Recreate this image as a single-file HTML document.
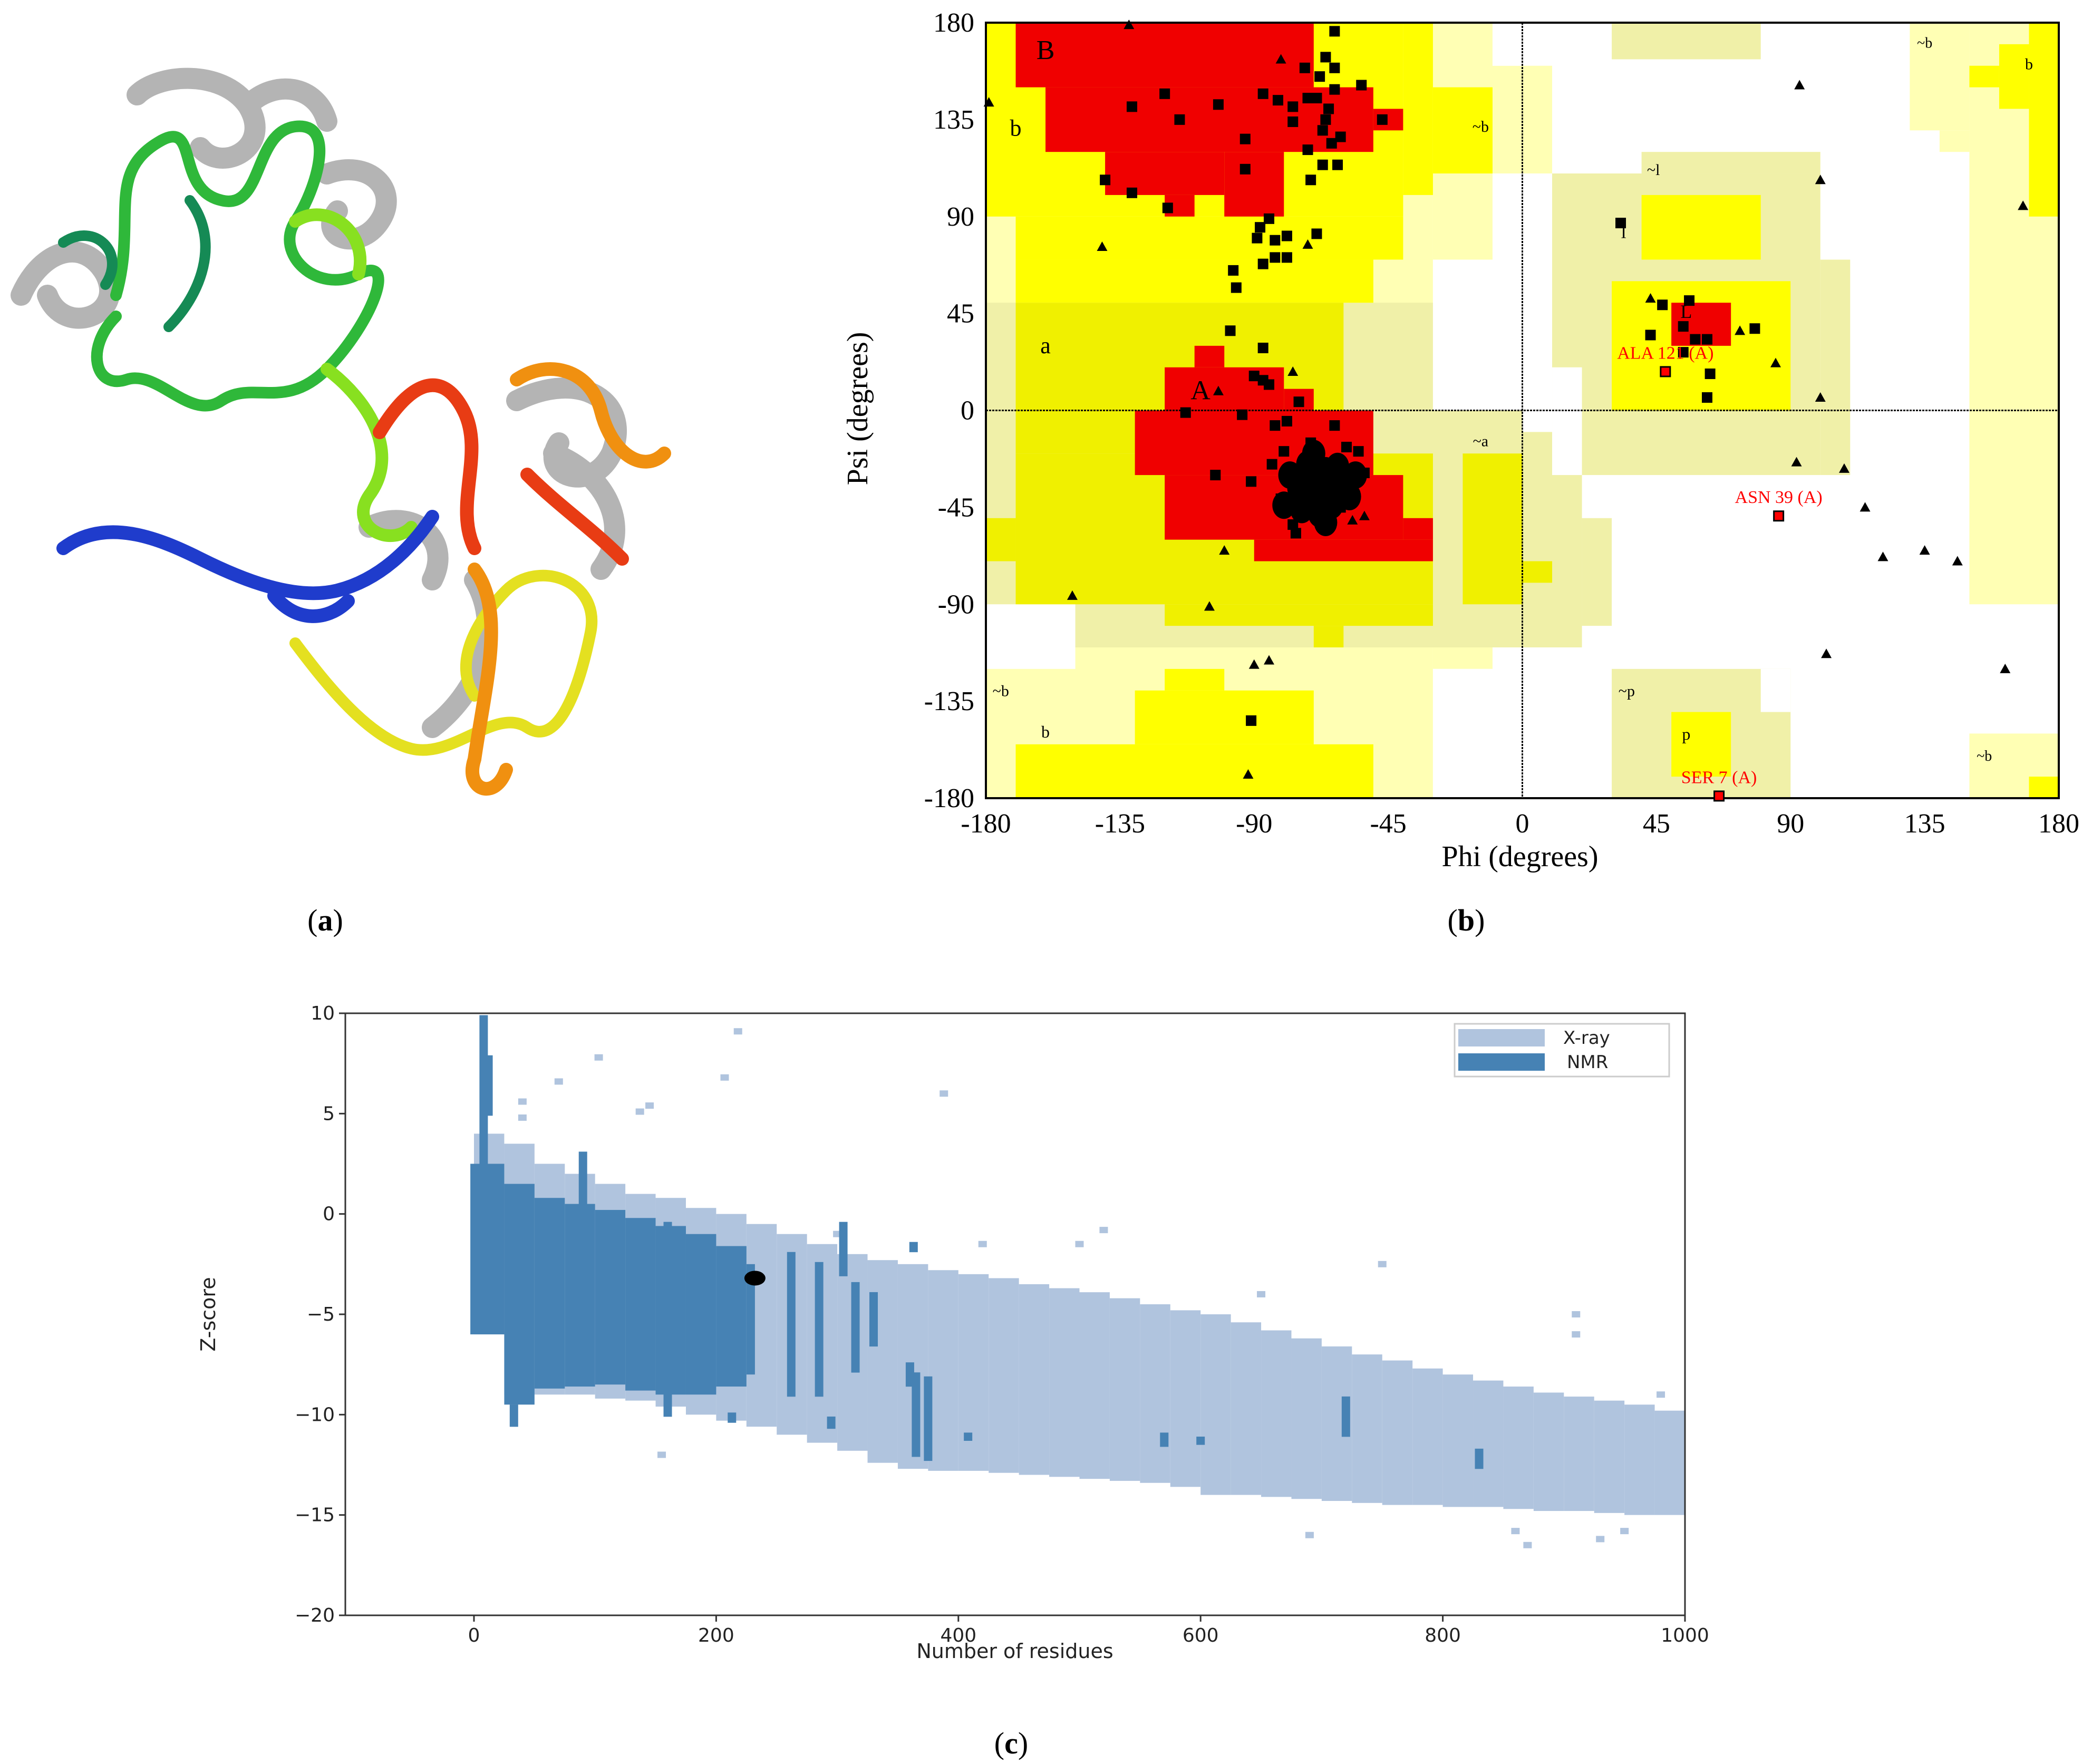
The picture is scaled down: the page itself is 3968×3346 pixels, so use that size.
<!DOCTYPE html>
<html><head><meta charset="utf-8"><style>
html,body{margin:0;padding:0;background:#fff;}
svg{display:block;}
</style></head><body>
<svg id="fig" xmlns="http://www.w3.org/2000/svg" width="3968" height="3346" viewBox="0 0 3968 3346">
<rect width="3968" height="3346" fill="#fff"/>
<g id="panelA" fill="none" stroke-linecap="round" stroke-linejoin="round">
  <path d="M40,560 C80,470 160,450 200,520 C240,600 120,640 90,560 M260,180 C300,140 420,130 470,200 C520,280 420,330 380,280 M470,200 C520,150 600,160 620,230 M620,330 C700,300 760,360 720,420 C680,480 600,450 640,400 M980,760 C1100,700 1200,760 1160,860 C1120,940 1020,900 1060,840 M700,1000 C780,960 860,1020 820,1100 M900,1100 C960,1200 900,1320 820,1380 M1050,860 C1150,900 1200,1000 1140,1080" stroke="#b4b4b4" stroke-width="40"/>
  <path d="M220,560 C260,420 200,330 300,270 C380,220 330,360 420,380 C500,400 480,250 560,240 C640,230 600,360 560,420 C520,480 600,560 680,520 C760,480 700,620 620,700 C540,780 480,720 420,760 C360,800 300,700 240,720 C180,740 160,660 220,600" stroke="#2fb83a" stroke-width="22"/>
  <path d="M560,420 C620,380 700,440 680,520 M620,700 C700,760 760,860 700,940 C660,1000 740,1040 780,1000" stroke="#88e020" stroke-width="24"/>
  <path d="M120,460 C180,420 240,480 200,540 M360,380 C420,460 380,560 320,620" stroke="#158a55" stroke-width="20"/>
  <path d="M120,1040 C200,980 300,1020 380,1060 C460,1100 560,1140 640,1120 C720,1100 780,1040 820,980 M520,1130 C560,1180 620,1180 660,1140" stroke="#1f3ccc" stroke-width="26"/>
  <path d="M560,1220 C620,1300 700,1400 780,1420 C860,1440 940,1340 1000,1380 C1060,1420 1100,1300 1120,1200 C1140,1100 1020,1060 960,1120 C900,1180 860,1260 900,1320" stroke="#e4e020" stroke-width="22"/>
  <path d="M900,1080 C960,1160 920,1300 900,1440 C880,1500 940,1520 960,1460 M980,720 C1040,680 1120,700 1140,780 C1160,860 1220,900 1260,860" stroke="#f09010" stroke-width="26"/>
  <path d="M720,820 C780,720 840,700 880,780 C920,860 860,960 900,1040 M1000,900 C1060,960 1120,1000 1180,1060" stroke="#e83c14" stroke-width="26"/>
</g>
<g id="rama"></g>
<g id="zplot"></g>
<text x="617" y="1765" font-family="Liberation Serif, serif" font-size="58" text-anchor="middle">(<tspan font-weight="bold">a</tspan>)</text>
<text x="2781" y="1765" font-family="Liberation Serif, serif" font-size="58" text-anchor="middle">(<tspan font-weight="bold">b</tspan>)</text>
<text x="1918" y="3326" font-family="Liberation Serif, serif" font-size="58" text-anchor="middle">(<tspan font-weight="bold">c</tspan>)</text>
</svg>
<script>
// ---------- Ramachandran data (degrees) ----------
const ramaTicks = [-180,-135,-90,-45,0,45,90,135,180];
const paleRegions = [[-180,-30,-180,180],[-30,-10,-120,180],[-10,10,110,160],[130,150,130,180],[140,150,120,130],[150,180,-90,180],[150,180,-180,-150]];
const khakiRegions = [[-180,0,-110,50],[0,20,-110,-10],[20,30,-100,-50],[10,100,-30,110],[40,100,110,120],[100,110,-30,70],[30,80,163,180],[30,90,-180,-120]];
const whiteRegions = [[-180,-150,-120,-90],[-30,0,0,70],[-10,0,70,100],[-10,0,160,180],[-30,0,-180,-120],[10,20,-30,20],[80,90,-140,-120]];
const yellowRegions = [[-180,-40,90,180],[-170,-40,70,90],[-40,-30,100,180],[-30,-10,110,150],[-170,-50,50,70],[-170,-50,-180,-155],[-130,-70,-155,-130],[-120,-100,-130,-120],[170,180,90,180],[160,170,140,170],[150,160,150,160],[170,180,-180,-170],[40,80,70,100],[30,90,0,60],[50,70,-170,-140]];
const yellow2Regions = [[-170,-60,-20,50],[-170,-30,-90,-20],[-180,-170,-70,-50],[-20,0,-90,-20],[-120,-30,-100,-90],[-70,-60,-110,-100],[0,10,-80,-70]];
const redRegions = [[-170,-70,150,180],[-160,-50,120,150],[-50,-40,130,140],[-140,-100,100,120],[-120,-110,90,100],[-100,-80,90,120],[-110,-100,20,30],[-120,-80,0,20],[-80,-70,0,10],[-130,-50,-30,0],[-120,-40,-60,-30],[-90,-30,-70,-60],[-40,-30,-60,-50],[50,70,30,50]];
const squarePts = [[-63,176],[-66,164],[-63,159],[-73,159],[-68,155],[-54,151],[-63,149],[-87,147],[-82,144],[-72,145],[-69,145],[-77,141],[-65,140],[-120,147],[-131,141],[-102,142],[-115,135],[-77,134],[-66,135],[-47,135],[-67,130],[-61,127],[-93,126],[-64,124],[-72,121],[-93,112],[-67,114],[-62,114],[-71,107],[-140,107],[-131,101],[-119,94],[-85,89],[-88,85],[-89,80],[-79,81],[-83,79],[-69,82],[-97,65],[-96,57],[-87,68],[-83,71],[-79,71],[-98,37],[-87,29],[-90,16],[-87,14],[-85,12],[-75,4],[-113,-1],[-94,-2],[-83,-7],[-79,-5],[-63,-7],[-103,-30],[-91,-33],[-84,-25],[-80,-19],[-71,-15],[-59,-17],[-55,-19],[-53,-29],[-77,-53],[-76,-57],[-81,-41],[-65,-49],[-61,-45],[-91,-144],[33,87],[56,51],[47,49],[43,35],[54,39],[58,33],[62,33],[78,38],[54,27],[63,17],[62,6]];
const clusterPts = [[-72,-30],[-66,-28],[-63,-38],[-70,-42],[-60,-33],[-75,-36],[-68,-48],[-64,-44],[-72,-25],[-58,-40],[-78,-30],[-69,-36],[-62,-26],[-74,-46],[-66,-52],[-56,-30],[-70,-20],[-80,-44],[-67,-34],[-64,-31]];
const trianglePts = [[-132,179],[-179,143],[-81,163],[-141,76],[-72,77],[-77,18],[-102,9],[-79,-5],[-100,-65],[-151,-86],[-105,-91],[-90,-118],[-85,-116],[-92,-169],[43,52],[73,37],[85,22],[92,-24],[108,-27],[100,6],[100,107],[93,151],[168,95],[115,-45],[121,-68],[135,-65],[146,-70],[102,-113],[162,-120],[-53,-49],[-57,-51]];
const outlierPts = [[48,18],[86,-49],[66,-179]];
const outlierLabels = [["ALA 121 (A)",48,24],["ASN 39 (A)",86,-43],["SER 7 (A)",66,-173]];
const regionLabels = [["B",-160,166,52],["b",-170,130,44],["a",-160,29,44],["A",-108,8,52],["~b",-14,131,30],["~a",-14,-15,30],["~l",44,111,30],["l",34,82,36],["L",55,45,36],["~p",35,-131,30],["p",55,-151,32],["b",-160,-150,32],["~b",-175,-131,30],["~b",135,170,28],["b",170,160,30],["~b",155,-161,28]];

// ---------- Z-score data ----------
const xTickVals = [0,200,400,600,800,1000];
const yTickVals = [10,5,0,-5,-10,-15,-20];
const yTickLabels = ["10","5","0","\u22125","\u221210","\u221215","\u221220"];
const xrayBins = [0,25,50,75,100,125,150,175,200,225,250,275,300,325,350,375,400,425,450,475,500,525,550,575,600,625,650,675,700,725,750,775,800,825,850,875,900,925,950,975];
const xrayTop = [4,3.5,2.5,2,1.5,1,0.8,0.3,0,-0.5,-1,-1.5,-2,-2.3,-2.5,-2.8,-3,-3.2,-3.5,-3.7,-3.9,-4.2,-4.5,-4.8,-5,-5.4,-5.8,-6.2,-6.6,-7,-7.3,-7.7,-8,-8.3,-8.6,-8.9,-9.1,-9.3,-9.5,-9.8];
const xrayBottom = [-6,-9,-9,-9,-9.2,-9.3,-9.6,-10,-10.3,-10.6,-11,-11.4,-11.8,-12.4,-12.7,-12.8,-12.8,-12.9,-13,-13.1,-13.2,-13.3,-13.4,-13.6,-14,-14,-14.1,-14.2,-14.3,-14.4,-14.5,-14.5,-14.6,-14.6,-14.7,-14.8,-14.8,-14.9,-15,-15];
const nmrBins = [-3,25,50,75,100,125,150,175,200,225];
const nmrTop = [2.5,1.5,0.8,0.5,0.2,-0.2,-0.6,-1,-1.6,-2.5];
const nmrBottom = [-6,-9.5,-8.7,-8.6,-8.5,-8.8,-9,-9,-8.6,-8];
const nmrStreaks = [[8,9.8,2.5],[12,7.8,5],[90,3,-0.5],[160,-0.5,-10],[213,-10,-10.3],[262,-2,-9],[285,-2.5,-9],[295,-10.2,-10.6],[305,-0.5,-3],[315,-3.5,-7.8],[330,-4,-6.5],[360,-7.5,-8.5],[365,-8,-12],[375,-8.2,-12.2],[363,-1.5,-1.8],[408,-11,-11.2],[570,-11,-11.5],[600,-11.2,-11.4],[720,-9.2,-11],[830,-11.8,-12.6],[33,-9.6,-10.5]];
const xrayOutliers = [[218,9.1],[103,7.8],[388,6],[70,6.6],[207,6.8],[145,5.4],[137,5.1],[40,5.6],[40,4.8],[500,-1.5],[520,-0.8],[750,-2.5],[910,-5],[910,-6],[155,-12],[690,-16],[870,-16.5],[860,-15.8],[930,-16.2],[950,-15.8],[300,-1],[420,-1.5],[650,-4],[980,-9]];
const targetPoint = [232,-3.2];

const NS="http://www.w3.org/2000/svg";
function mk(tag, parent, attrs){const e=document.createElementNS(NS,tag);for(const k in attrs)e.setAttribute(k,attrs[k]);parent.appendChild(e);return e;}

// ----- Ramachandran -----
const R = document.getElementById('rama');
const RX0=1870,RX1=3905,RY0=43,RY1=1514;
const xR = p => RX0+(p+180)*(RX1-RX0)/360;
const yR = s => RY0+(180-s)*(RY1-RY0)/360;
function drawRegions(list,color,name){
  list.forEach(r=>{
    const e=mk('rect',R,{x:xR(r[0]),y:yR(r[3]),width:xR(r[1])-xR(r[0]),height:yR(r[2])-yR(r[3]),fill:color});
    
    
  });
}
drawRegions(paleRegions,'#FFFFB4','generous-region');
drawRegions(khakiRegions,'#F0F0A8','generous-region-shaded');
drawRegions(whiteRegions,'#FFFFFF','disallowed-region');
drawRegions(yellowRegions,'#FFFF00','allowed-region');
drawRegions(yellow2Regions,'#F0F000','allowed-region-shaded');
drawRegions(redRegions,'#F00000','core-region');
// axes lines at zero
let l=mk('line',R,{x1:xR(0),x2:xR(0),y1:RY0,y2:RY1,stroke:'#000','stroke-width':3,'stroke-dasharray':'4,2'});


l=mk('line',R,{x1:RX0,x2:RX1,y1:yR(0),y2:yR(0),stroke:'#000','stroke-width':3,'stroke-dasharray':'4,2'});


let fr=mk('rect',R,{x:RX0,y:RY0,width:RX1-RX0,height:RY1-RY0,fill:'none',stroke:'#000','stroke-width':4});


regionLabels.forEach(t=>{
  const e=mk('text',R,{x:xR(t[1]),y:yR(t[2]),'font-family':'Liberation Serif, serif','font-size':t[3],'text-anchor':'middle','dominant-baseline':'middle',fill:'#000'});
  e.textContent=t[0];
  
  
});
squarePts.concat(clusterPts).forEach(p=>{
  const e=mk('rect',R,{x:xR(p[0])-10,y:yR(p[1])-10,width:20,height:20,fill:'#000'});
  
  
});
clusterPts.forEach(p=>{
  const e=mk('ellipse',R,{cx:xR(p[0]),cy:yR(p[1]),rx:22,ry:26,fill:'#000'});
  
  
});
trianglePts.forEach(p=>{
  const x=xR(p[0]),y=yR(p[1]);
  const e=mk('polygon',R,{points:`${x},${y-10} ${x-10},${y+8} ${x+10},${y+8}`,fill:'#000'});
  
  
});
outlierPts.forEach(p=>{
  const e=mk('rect',R,{x:xR(p[0])-9,y:yR(p[1])-9,width:18,height:18,fill:'#f00',stroke:'#000','stroke-width':3});
  
  
});
outlierLabels.forEach(t=>{
  const e=mk('text',R,{x:xR(t[1]),y:yR(t[2]),'font-family':'Liberation Serif, serif','font-size':34,'text-anchor':'middle',fill:'#f00'});
  e.textContent=t[0];
  
  
});
ramaTicks.forEach(v=>{
  let e=mk('text',R,{x:xR(v),y:RY1+65,'font-family':'Liberation Serif, serif','font-size':52,'text-anchor':'middle'});
  e.textContent=String(v);
  
  
  e=mk('text',R,{x:RX0-22,y:yR(v)+17,'font-family':'Liberation Serif, serif','font-size':52,'text-anchor':'end'});
  e.textContent=String(v);
  
  
});
let t=mk('text',R,{x:2883,y:1643,'font-family':'Liberation Serif, serif','font-size':56,'text-anchor':'middle'});
t.textContent='Phi (degrees)';


t=mk('text',R,{x:1645,y:775,'font-family':'Liberation Serif, serif','font-size':56,'text-anchor':'middle',transform:'rotate(-90 1645 775)'});
t.textContent='Psi (degrees)';



// ----- Z-score plot -----
const Z = document.getElementById('zplot');
const ZX0=655,ZX1=3196,ZY0=1922,ZY1=3064;
const xZ = r => 899+r*(3196-899)/1000;
const yZ = z => ZY0+(10-z)*(ZY1-ZY0)/30;
const clipX = v => Math.max(ZX0,Math.min(ZX1,v));
xrayBins.forEach((b,i)=>{
  const x0=clipX(xZ(b)),x1=clipX(xZ(b+25));
  const e=mk('rect',Z,{x:x0,y:yZ(xrayTop[i]),width:x1-x0,height:yZ(xrayBottom[i])-yZ(xrayTop[i]),fill:'#B0C4DE'});
  
  
});
xrayOutliers.forEach(p=>{
  const e=mk('rect',Z,{x:xZ(p[0])-8,y:yZ(p[1])-6,width:16,height:12,fill:'#B0C4DE'});
  
  
});
nmrBins.forEach((b,i)=>{
  const end = i<nmrBins.length-1 ? nmrBins[i+1] : 232;
  const x0=xZ(b),x1=xZ(end);
  const e=mk('rect',Z,{x:x0,y:yZ(nmrTop[i]),width:x1-x0,height:yZ(nmrBottom[i])-yZ(nmrTop[i]),fill:'#4682B4'});
  
  
});
nmrStreaks.forEach(s=>{
  const e=mk('rect',Z,{x:xZ(s[0])-8,y:yZ(s[1])-4,width:16,height:yZ(s[2])-yZ(s[1])+8,fill:'#4682B4'});
  
  
});
let dot=mk('ellipse',Z,{cx:xZ(targetPoint[0]),cy:yZ(targetPoint[1]),rx:20,ry:14,fill:'#000'});


let zf=mk('rect',Z,{x:ZX0,y:ZY0,width:ZX1-ZX0,height:ZY1-ZY0,fill:'none',stroke:'#333','stroke-width':3});


xTickVals.forEach(v=>{
  let e=mk('line',Z,{x1:xZ(v),x2:xZ(v),y1:ZY1,y2:ZY1+12,stroke:'#333','stroke-width':3});
  
  
  e=mk('text',Z,{x:xZ(v),y:ZY1+50,'font-family':'DejaVu Sans, sans-serif','font-size':36,'text-anchor':'middle',fill:'#222'});
  e.textContent=String(v);
  
  
});
yTickVals.forEach((v,i)=>{
  let e=mk('line',Z,{x1:ZX0-12,x2:ZX0,y1:yZ(v),y2:yZ(v),stroke:'#333','stroke-width':3});
  
  
  e=mk('text',Z,{x:ZX0-20,y:yZ(v)+12,'font-family':'DejaVu Sans, sans-serif','font-size':36,'text-anchor':'end',fill:'#222'});
  e.textContent=yTickLabels[i];
  
  
});
t=mk('text',Z,{x:1925,y:3145,'font-family':'DejaVu Sans, sans-serif','font-size':38,'text-anchor':'middle',fill:'#222'});
t.textContent='Number of residues';


t=mk('text',Z,{x:408,y:2493,'font-family':'DejaVu Sans, sans-serif','font-size':38,'text-anchor':'middle',fill:'#222',transform:'rotate(-90 408 2493)'});
t.textContent='Z-score';


// legend
let lg=mk('rect',Z,{x:2759,y:1942,width:407,height:100,fill:'#fff',stroke:'#ccc','stroke-width':3});


let sw=mk('rect',Z,{x:2766,y:1952,width:164,height:33,fill:'#B0C4DE'});


sw=mk('rect',Z,{x:2766,y:1998,width:164,height:33,fill:'#4682B4'});


t=mk('text',Z,{x:2965,y:1980,'font-family':'DejaVu Sans, sans-serif','font-size':34,fill:'#222'});
t.textContent='X-ray';


t=mk('text',Z,{x:2972,y:2026,'font-family':'DejaVu Sans, sans-serif','font-size':34,fill:'#222'});
t.textContent='NMR';


</script>
</body></html>
